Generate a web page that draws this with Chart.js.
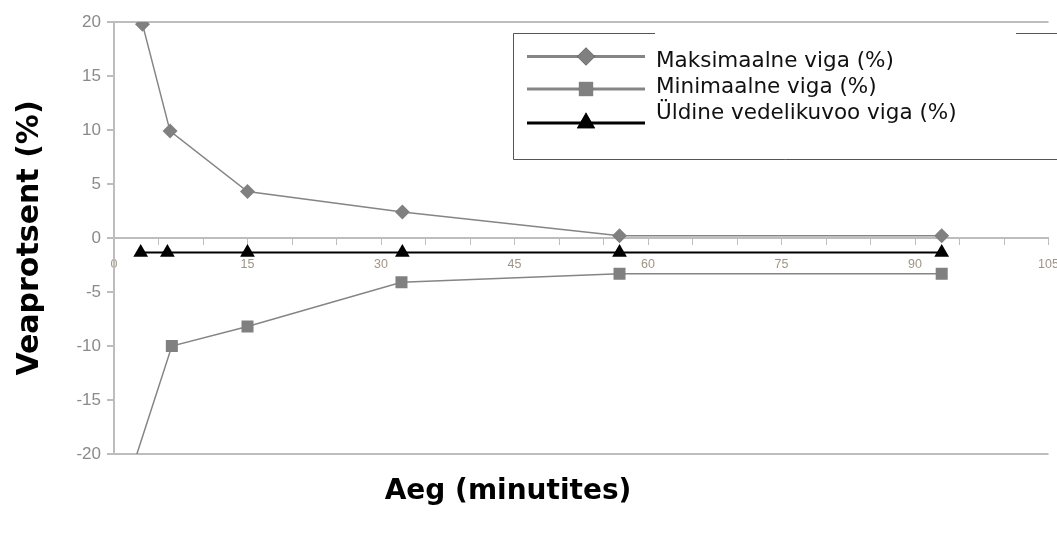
<!DOCTYPE html>
<html>
<head>
<meta charset="utf-8">
<script src="https://cdn.jsdelivr.net/npm/chart.js@4.4.0/dist/chart.umd.min.js"></script>
<style>
  html, body { margin: 0; padding: 0; background: #fff; }
  #wrap { width: 1057px; height: 534px; position: relative; }
</style>
</head>
<body>
<div id="wrap"><canvas id="veaChart"></canvas></div>
<script>
// --- andmed (loetud pildilt) ---
const seeriaNimed = ['Maksimaalne viga (%)', 'Minimaalne viga (%)', 'Üldine vedelikuvoo viga (%)'];
const aegMax = [3.2, 6.3, 15, 32.4, 56.8, 93];
const veaMax = [19.8, 9.9, 4.3, 2.4, 0.2, 0.2];
const aegMin = [1, 6.5, 15, 32.3, 56.8, 93];
const veaMin = [-24, -10, -8.2, -4.1, -3.3, -3.3];
const aegYld = [3, 6, 15, 32.4, 56.8, 93];
const veaYld = [-1.35, -1.35, -1.35, -1.35, -1.35, -1.35];
const xSamm = 5;      // tick mark iga 5 min
const xSilt = 15;     // silt iga 15 min
const yMin = -20, yMax = 20, ySamm = 5;

const hall = '#858585';
const punktid = (xs, ys) => xs.map((x, i) => ({ x: x, y: ys[i] }));

// --- legend kastis paremal üleval ---
const kastiLegend = {
    id: 'kastiLegend',
    afterDraw(chart) {
        const ctx = chart.ctx;
        ctx.save();
        ctx.strokeStyle = '#555';
        ctx.lineWidth = 1;
        ctx.beginPath();
        ctx.moveTo(655, 33.5);
        ctx.lineTo(513.5, 33.5);
        ctx.lineTo(513.5, 159.5);
        ctx.lineTo(1057, 159.5);
        ctx.moveTo(1016, 33.5);
        ctx.lineTo(1057, 33.5);
        ctx.stroke();

        const joonY = [56.5, 89, 123];
        const baasY = [67, 93, 119];
        const suurus = [9, 10, 10.5];
        chart.data.datasets.forEach((ds, i) => {
            const y = joonY[i];
            ctx.strokeStyle = ds.borderColor;
            ctx.lineWidth = 3;
            ctx.beginPath();
            ctx.moveTo(527, y);
            ctx.lineTo(645, y);
            ctx.stroke();
            Chart.helpers.drawPoint(ctx, {
                pointStyle: ds.pointStyle,
                radius: suurus[i],
                borderWidth: 0
            }, 586, y);
            ctx.fillStyle = ds.pointBackgroundColor;
            ctx.fill();
            ctx.fillStyle = '#111';
            ctx.font = '21.5px "DejaVu Sans"';
            ctx.textBaseline = 'alphabetic';
            ctx.textAlign = 'left';
            ctx.fillText(ds.label, 656, baasY[i]);
        });
        ctx.restore();
    }
};

// --- x-telje pealkiri all ---
const xTiitel = {
    id: 'xTiitel',
    afterDraw(chart) {
        const ctx = chart.ctx;
        ctx.save();
        ctx.fillStyle = '#000';
        ctx.font = 'bold 28px "DejaVu Sans"';
        ctx.textAlign = 'center';
        ctx.textBaseline = 'middle';
        ctx.fillText('Aeg (minutites)', 508, 492);
        ctx.restore();
    }
};

const ctx = document.getElementById('veaChart').getContext('2d');
new Chart(ctx, {
    type: 'line',
    data: {
        datasets: [
            {
                label: seeriaNimed[0],
                data: punktid(aegMax, veaMax),
                borderColor: hall,
                borderWidth: 1.5,
                pointStyle: 'rectRot',
                pointRadius: 7.5,
                pointBackgroundColor: '#808080',
                pointBorderWidth: 0,
                tension: 0
            },
            {
                label: seeriaNimed[1],
                data: punktid(aegMin, veaMin),
                borderColor: hall,
                borderWidth: 1.5,
                pointStyle: 'rect',
                pointRadius: 8.5,
                pointBackgroundColor: '#808080',
                pointBorderWidth: 0,
                tension: 0
            },
            {
                label: seeriaNimed[2],
                data: punktid(aegYld, veaYld),
                borderColor: '#000',
                borderWidth: 2,
                pointStyle: 'triangle',
                pointRadius: 8.5,
                pointBackgroundColor: '#000',
                pointBorderWidth: 0,
                tension: 0
            }
        ]
    },
    options: {
        responsive: true,
        maintainAspectRatio: false,
        animation: false,
        layout: { padding: { top: 22, right: 7, bottom: 80, left: 0 } },
        scales: {
            x: {
                type: 'linear',
                position: { y: 0 },
                min: 0,
                max: 105,
                afterFit: s => { s.paddingRight = 0; s.paddingLeft = 0; },
                grid: {
                    drawOnChartArea: false,
                    tickLength: 6,
                    color: '#bdbdbd'
                },
                border: { display: true, color: '#bdbdbd', width: 2 },
                ticks: {
                    stepSize: xSamm,
                    autoSkip: false,
                    maxRotation: 0,
                    padding: 13,
                    color: '#a09584',
                    font: { family: '"Liberation Sans", Arial', size: 12.5 },
                    callback: v => (v % xSilt === 0 ? String(v) : '')
                }
            },
            y: {
                min: yMin,
                max: yMax,
                afterFit: s => { s.width = 114; },
                grid: {
                    color: c => (c.tick && (c.tick.value === yMin || c.tick.value === yMax)) ? '#bdbdbd' : 'rgba(0,0,0,0)',
                    tickColor: '#bdbdbd',
                    tickLength: 7,
                    lineWidth: 2
                },
                border: { display: true, color: '#bdbdbd', width: 2 },
                ticks: {
                    stepSize: ySamm,
                    padding: 6,
                    color: '#8a8a8a',
                    font: { family: '"Liberation Sans", Arial', size: 17 }
                },
                title: {
                    display: true,
                    text: 'Veaprotsent (%)',
                    color: '#000',
                    font: { family: '"DejaVu Sans"', size: 30, weight: 'bold' },
                    padding: { top: 12, bottom: 0 }
                }
            }
        },
        plugins: {
            legend: { display: false },
            tooltip: { enabled: false }
        }
    },
    plugins: [kastiLegend, xTiitel]
});
</script>
</body>
</html>
